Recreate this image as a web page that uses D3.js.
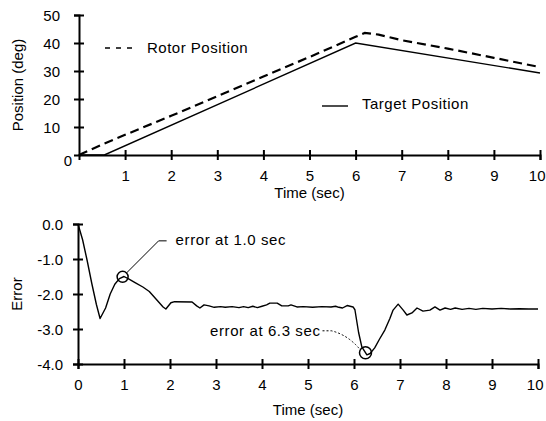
<!DOCTYPE html>
<html>
<head>
<meta charset="utf-8">
<script src="https://cdn.jsdelivr.net/npm/d3@7"></script>
<style>
  html, body { margin: 0; padding: 0; background: #fff; }
  svg { display: block; font-family: "Liberation Sans", Arial, sans-serif; }
  .lbl { font-size: 15px; fill: #000; }
</style>
</head>
<body>
<div id="chart"></div>
<script>
// ── Données ───────────────────────────────────────────────────────────────
const targetTime = [0, 0.55, 6, 10];
const targetPos  = [0, 0, 40, 29.3];

const rotorTime = [0, 0.5, 1, 2, 3, 4, 5, 6, 6.2, 6.5, 7, 8, 9, 10];
const rotorPos  = [0, 3.7, 7.2, 14, 21, 28, 35, 42.2, 43.6, 43, 41, 38, 34.7, 31.4];

const errTime = [0, 0.1, 0.2, 0.3, 0.4, 0.48, 0.6, 0.7, 0.8, 0.9, 1.0, 1.1, 1.25, 1.41, 1.55, 1.7,
  1.85, 1.91, 2.02, 2.1, 2.48, 2.58, 2.65, 2.74, 2.85, 2.96, 3.1, 3.2, 3.35, 3.5, 3.6, 3.7, 3.8,
  3.9, 4.0, 4.1, 4.17, 4.33, 4.43, 4.57, 4.63, 4.76, 4.9, 5.1, 5.3, 5.5, 5.6, 5.67, 5.75, 5.85,
  5.98, 6.02, 6.1, 6.17, 6.28, 6.35, 6.45, 6.55, 6.67, 6.78, 6.85, 6.96, 7.07, 7.15, 7.26, 7.37,
  7.5, 7.65, 7.76, 7.87, 7.98, 8.1, 8.2, 8.35, 8.5, 8.65, 8.8, 9.0, 9.2, 9.4, 9.6, 9.8, 10];
const errValue = [0, -0.45, -1.05, -1.7, -2.3, -2.7, -2.4, -2.0, -1.72, -1.56, -1.5, -1.57, -1.68,
  -1.8, -1.93, -2.15, -2.37, -2.43, -2.25, -2.22, -2.23, -2.34, -2.4, -2.31, -2.34, -2.38, -2.36,
  -2.38, -2.36, -2.39, -2.36, -2.39, -2.35, -2.39, -2.35, -2.31, -2.26, -2.26, -2.34, -2.34, -2.31,
  -2.37, -2.36, -2.38, -2.36, -2.37, -2.35, -2.38, -2.4, -2.33, -2.37, -2.45, -3.1, -3.51, -3.74,
  -3.7, -3.54, -3.3, -3.03, -2.7, -2.46, -2.29, -2.46, -2.6, -2.54, -2.4, -2.49, -2.46, -2.37,
  -2.46, -2.4, -2.44, -2.4, -2.44, -2.41, -2.44, -2.41, -2.43, -2.41, -2.43, -2.42, -2.43, -2.43];

const topXTicks = [1, 2, 3, 4, 5, 6, 7, 8, 9, 10];
const topYTicks = [10, 20, 30, 40, 50];
const botXTicks = [0, 1, 2, 3, 4, 5, 6, 7, 8, 9, 10];
const botYTicks = [0, -1, -2, -3, -4];

const markTime  = [0.97, 6.25];
const markValue = [-1.51, -3.68];
const markText  = ['error at 1.0 sec', 'error at 6.3 sec'];

// ── SVG ───────────────────────────────────────────────────────────────────
const W = 546, H = 421;
const svg = d3.select('#chart').append('svg').attr('width', W).attr('height', H);

const xTop = d3.scaleLinear().domain([0, 10]).range([79, 540]);
const yTop = d3.scaleLinear().domain([0, 50]).range([155, 15]);
const xBot = d3.scaleLinear().domain([0, 10]).range([78, 538]);
const yBot = d3.scaleLinear().domain([-4, 0]).range([364, 224]);

// axes avec graduations en croix
function drawAxes(x, y, xTicks, yTicks, fmtY, xLabelGap, yLabelGap) {
  const y0 = y.range()[0], x0 = x.range()[0];
  const gx = svg.append('g').attr('transform', `translate(0,${y0})`)
    .call(d3.axisBottom(x).tickValues(xTicks).tickSizeOuter(0).tickSize(5).tickFormat(d3.format('d')));
  const gy = svg.append('g').attr('transform', `translate(${x0},0)`)
    .call(d3.axisLeft(y).tickValues(yTicks).tickSizeOuter(0).tickSize(5).tickFormat(fmtY));
  for (const g of [gx, gy]) {
    g.select('.domain').attr('stroke', '#000').attr('stroke-width', 2);
    g.selectAll('.tick line').attr('stroke', '#000').attr('stroke-width', 2);
    g.selectAll('.tick text').attr('class', 'lbl').attr('font-family', null).attr('font-size', null);
  }
  gx.selectAll('.tick line').attr('y1', -5).attr('y2', 5);
  gx.selectAll('.tick text').attr('y', xLabelGap).attr('dy', '0.35em');
  // le "10" touche le bord droit
  gx.selectAll('.tick text').filter(d => d === 10).attr('text-anchor', 'end').attr('x', 5);
  gy.selectAll('.tick line').attr('x1', -5).attr('x2', 5);
  gy.selectAll('.tick text').attr('x', -yLabelGap).attr('dy', '0.35em');
  return [gx, gy];
}

drawAxes(xTop, yTop, topXTicks, topYTicks, d3.format('d'), 21, 19);
drawAxes(xBot, yBot, botXTicks, botYTicks, d => d3.format('.1f')(d).replace('−', '-'), 21, 15);

// "0" du graphe du haut, décalé
svg.append('text').attr('class', 'lbl').attr('x', 68).attr('y', 161).attr('dy', '0.35em')
  .attr('text-anchor', 'middle').text('0');

// titres
svg.append('text').attr('class', 'lbl').attr('text-anchor', 'middle')
  .attr('transform', `translate(23,${(yTop(0) + yTop(50)) / 2}) rotate(-90)`).text('Position (deg)');
svg.append('text').attr('class', 'lbl').attr('text-anchor', 'middle')
  .attr('transform', `translate(22,${(yBot(0) + yBot(-4)) / 2}) rotate(-90)`).text('Error');
svg.append('text').attr('class', 'lbl').attr('text-anchor', 'middle')
  .attr('x', xTop(5)).attr('y', 193).attr('dy', '0.35em').text('Time (sec)');
svg.append('text').attr('class', 'lbl').attr('text-anchor', 'middle')
  .attr('x', xBot(5)).attr('y', 410).attr('dy', '0.35em').text('Time (sec)');

// ── Courbes ───────────────────────────────────────────────────────────────
const lineTop = d3.line().x(d => xTop(d[0])).y(d => yTop(d[1]));
const lineBot = d3.line().x(d => xBot(d[0])).y(d => yBot(d[1]));

svg.append('path').datum(d3.zip(targetTime, targetPos)).attr('d', lineTop)
  .attr('fill', 'none').attr('stroke', '#000').attr('stroke-width', 1.4);
svg.append('path').datum(d3.zip(rotorTime, rotorPos)).attr('d', lineTop)
  .attr('fill', 'none').attr('stroke', '#000').attr('stroke-width', 2.2)
  .attr('stroke-dasharray', '9,5');

svg.append('path').datum(d3.zip(errTime, errValue)).attr('d', lineBot)
  .attr('fill', 'none').attr('stroke', '#000').attr('stroke-width', 1.4)
  .attr('stroke-linejoin', 'round');

// ── Légende ───────────────────────────────────────────────────────────────
svg.append('line').attr('x1', 105).attr('x2', 132).attr('y1', 48).attr('y2', 48)
  .attr('stroke', '#000').attr('stroke-width', 1.6).attr('stroke-dasharray', '5,6');
svg.append('text').attr('class', 'lbl').attr('x', 147).attr('y', 48).attr('dy', '0.35em')
  .style('letter-spacing', '0.5px').text('Rotor Position');
svg.append('line').attr('x1', 322).attr('x2', 348).attr('y1', 106).attr('y2', 106)
  .attr('stroke', '#000').attr('stroke-width', 1.4);
svg.append('text').attr('class', 'lbl').attr('x', 362).attr('y', 104).attr('dy', '0.35em')
  .style('letter-spacing', '0.5px').text('Target Position');

// ── Annotations ───────────────────────────────────────────────────────────
const m0 = [xBot(markTime[0]), yBot(markValue[0])];
const m1 = [xBot(markTime[1]), yBot(markValue[1])];

svg.append('circle').attr('cx', m0[0]).attr('cy', m0[1]).attr('r', 5.5)
  .attr('fill', 'none').attr('stroke', '#000').attr('stroke-width', 1.5);
svg.append('path').attr('d', `M${m0[0] + 4},${m0[1] - 4} L${m0[0] + 36},${m0[1] - 36} h8`)
  .attr('fill', 'none').attr('stroke', '#000').attr('stroke-width', 1);
svg.append('text').attr('class', 'lbl').attr('x', m0[0] + 53).attr('y', m0[1] - 37).attr('dy', '0.35em')
  .style('letter-spacing', '0.6px').text(markText[0]);

svg.append('circle').attr('cx', m1[0]).attr('cy', m1[1]).attr('r', 6)
  .attr('fill', 'none').attr('stroke', '#000').attr('stroke-width', 1.5);
svg.append('path').attr('d', `M${m1[0] - 43},${m1[1] - 22} h9 Q${m1[0] - 18},${m1[1] - 18} ${m1[0] - 6},${m1[1] - 4}`)
  .attr('fill', 'none').attr('stroke', '#000').attr('stroke-width', 1)
  .attr('stroke-dasharray', '2,2');
svg.append('text').attr('class', 'lbl').attr('x', m1[0] - 45).attr('y', m1[1] - 22).attr('dy', '0.35em')
  .attr('text-anchor', 'end').style('letter-spacing', '0.6px').text(markText[1]);
</script>
</body>
</html>
